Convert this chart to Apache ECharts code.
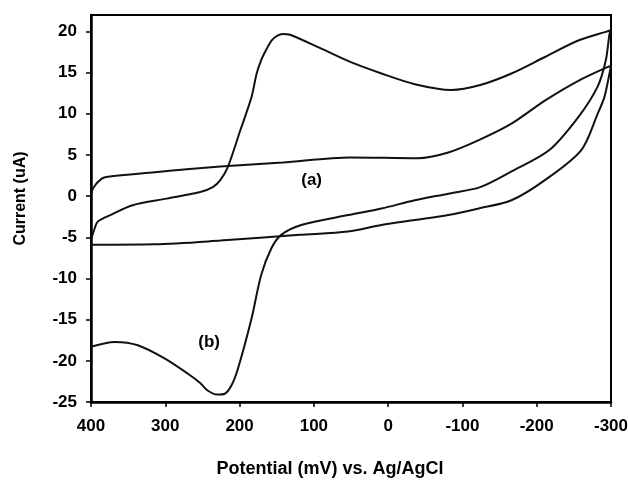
<!DOCTYPE html>
<html>
<head>
<meta charset="utf-8">
<title>Cyclic voltammogram</title>
<script src="https://cdn.jsdelivr.net/npm/echarts@6/dist/echarts.min.js"></script>
<style>
  html, body { margin: 0; padding: 0; background: #fff; }
  #cvChart { width: 628px; height: 480px; }
</style>
</head>
<body>
<div id="cvChart"></div>
<script>
// axis ticks
const potentialTicks = [400, 300, 200, 100, 0, -100, -200, -300];
const currentTicks = [-25, -20, -15, -10, -5, 0, 5, 10, 15, 20];

// curve (a): forward sweep 400 -> -300, then back
const aUpperV = [400, 397, 386, 377, 314, 267, 226, 142, 51, -40, -81, -122, -166, -211, -256, -296, -300];
const aUpperI = [0, 1.0, 2.1, 2.35, 2.9, 3.3, 3.6, 4.1, 4.7, 4.6, 5.3, 6.8, 8.8, 11.6, 14.0, 15.7, 15.8];
const aLowerV = [-300, -296, -291, -282, -260, -211, -166, -122, -81, -36, 9, 54, 119, 226, 314, 400];
const aLowerI = [15.8, 14.0, 12.0, 10.0, 5.6, 1.95, -0.5, -1.5, -2.3, -2.9, -3.5, -4.3, -4.7, -5.4, -5.85, -5.9];

// curve (b)
const bUpperV = [400, 395, 391, 374, 344, 298, 253, 236, 226, 216, 199, 184, 177, 171, 164, 157, 149, 142, 132, 92, 51, 9, -36, -85, -124, -166, -211, -256, -298, -300];
const bUpperI = [-5.3, -3.9, -3.1, -2.3, -1.1, -0.3, 0.5, 1.1, 1.95, 3.5, 8.0, 12.0, 14.9, 16.5, 17.8, 18.9, 19.5, 19.7, 19.6, 18.0, 16.3, 14.9, 13.6, 12.9, 13.5, 14.9, 16.9, 18.9, 20.1, 20.2];
const bLowerV = [-300, -298, -293, -282, -256, -217, -166, -124, -81, -36, 9, 54, 117, 144, 157, 171, 184, 202, 211, 220, 230, 243, 253, 269, 301, 337, 368, 400];
const bLowerI = [20.2, 19.7, 16.5, 13.3, 9.6, 5.6, 3.0, 1.1, 0.3, -0.5, -1.5, -2.3, -3.5, -4.7, -6.3, -9.6, -14.9, -20.9, -23.0, -24.0, -24.1, -23.6, -22.7, -21.6, -19.7, -18.1, -17.7, -18.3];

// curve labels
const labelNames = ['(a)', '(b)'];
const labelV = [103, 241];
const labelI = [1.9, -17.7];

function zip(xs, ys) {
  return xs.map((x, i) => [x, ys[i]]);
}

const fontFamily = 'Liberation Sans, Arial, sans-serif';
const lineColor = '#111';

let chart = echarts.init(document.getElementById('cvChart'), null, { renderer: 'canvas' });

let option = {
  backgroundColor: '#fff',
  animation: false,
  grid: {
    left: 91,
    right: 17,
    top: 15,
    bottom: 78,
    outerBoundsMode: 'none',
    show: true,
    borderColor: '#000',
    borderWidth: 2
  },
  xAxis: {
    type: 'value',
    inverse: true,
    min: -300,
    max: 400,
    interval: 100,
    name: 'Potential (mV) vs. Ag/AgCl',
    nameLocation: 'middle',
    nameGap: 58,
    nameTextStyle: {
      color: '#000', fontSize: 18, fontWeight: 'bold', fontFamily: fontFamily,
      padding: [0, 42, 0, 0]
    },
    splitLine: { show: false },
    axisLine: { onZero: false, lineStyle: { color: '#000', width: 2.5 } },
    axisTick: { inside: false, length: 5, lineStyle: { color: '#000', width: 1.5 }, customValues: potentialTicks },
    axisLabel: {
      color: '#000', fontSize: 17, fontWeight: 'bold', fontFamily: fontFamily, margin: 16,
      customValues: potentialTicks
    }
  },
  yAxis: {
    type: 'value',
    min: -25,
    max: 22,
    interval: 5,
    name: 'Current (uA)',
    nameLocation: 'middle',
    nameGap: 62,
    nameTextStyle: {
      color: '#000', fontSize: 16, fontWeight: 'bold', fontFamily: fontFamily,
      padding: [0, 0, 0, 20]
    },
    splitLine: { show: false },
    axisLine: { onZero: false, lineStyle: { color: '#000', width: 2.5 } },
    axisTick: { inside: false, length: 5, lineStyle: { color: '#000', width: 1.5 }, customValues: currentTicks },
    axisLabel: {
      color: '#000', fontSize: 17, fontWeight: 'bold', fontFamily: fontFamily, margin: 14,
      customValues: currentTicks
    }
  },
  series: [
    {
      name: 'a',
      type: 'line',
      data: zip(aUpperV, aUpperI).concat(zip(aLowerV, aLowerI)),
      showSymbol: false,
      smooth: 0.3,
      lineStyle: { color: lineColor, width: 2 }
    },
    {
      name: 'b',
      type: 'line',
      data: zip(bUpperV, bUpperI).concat(zip(bLowerV, bLowerI)),
      showSymbol: false,
      smooth: 0.3,
      lineStyle: { color: lineColor, width: 2 }
    },
    {
      // text labels for the two curves
      name: 'labels',
      type: 'scatter',
      symbolSize: 1,
      itemStyle: { color: 'rgba(255,255,255,0)' },
      data: labelNames.map((n, i) => ({ name: n, value: [labelV[i], labelI[i]] })),
      label: {
        show: true,
        position: 'inside',
        formatter: '{b}',
        color: '#000',
        opacity: 1,
        textBorderWidth: 0,
        fontSize: 17,
        fontWeight: 'bold',
        fontFamily: fontFamily
      }
    }
  ]
};

chart.setOption(option);
</script>
</body>
</html>
